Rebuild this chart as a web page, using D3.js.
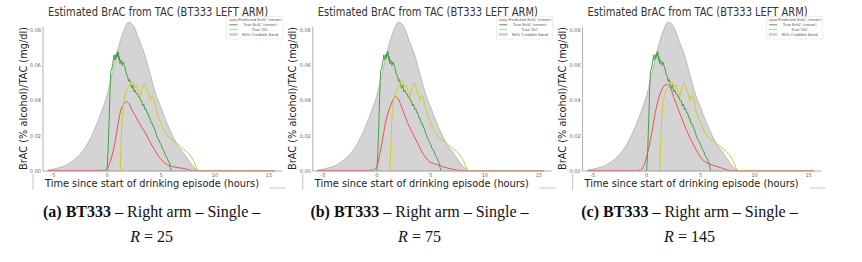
<!DOCTYPE html>
<html>
<head>
<meta charset="utf-8">
<script src="https://cdn.jsdelivr.net/npm/d3@7"></script>
<style>
  body { margin: 0; background: #fff; }
  svg { display: block; }
</style>
</head>
<body>
<svg id="mainsvg" width="862" height="262"></svg>
<script>
// shared x-values (hours) and series
const bandT = [-5.5, -5, -4.5, -4, -3.5, -3, -2.5, -2, -1.5, -1, -0.5, 0, 0.5, 1, 1.5, 2, 2.5, 3, 3.5, 4, 4.5, 5, 5.5, 6, 6.5, 7, 7.5, 8, 8.5, 9, 15.5]
const bandUpper = [0.0005, 0.001, 0.0018, 0.0027, 0.0043, 0.0065, 0.0095, 0.0135, 0.019, 0.026, 0.034, 0.043, 0.056, 0.069, 0.079, 0.0845, 0.082, 0.074, 0.066, 0.055, 0.044, 0.036, 0.028, 0.021, 0.015, 0.011, 0.0065, 0.0025, 0.0003, 0, 0]

const greenT = [0, 0.1, 0.2, 0.3, 0.35, 0.45, 0.55, 0.6, 0.65, 0.7, 0.75, 0.8, 0.85, 0.9, 0.95, 1.0, 1.05, 1.1, 1.15, 1.2, 1.3, 1.4, 1.5, 1.6, 1.7, 1.8, 1.9, 2.0, 2.1, 2.2, 2.3, 2.4, 2.5, 2.6, 2.7, 2.8, 2.9, 3.0, 3.1, 3.2, 3.3, 3.4, 3.5, 3.6, 3.7, 3.8, 3.9, 4.0, 4.1, 4.2, 4.3, 4.4, 4.5, 4.6, 4.7, 4.8, 4.9, 5.0, 5.1, 5.2, 5.3, 5.4, 5.5, 5.6, 5.7, 5.8, 5.85, 5.95]
const greenV = [0, 0.012, 0.03, 0.05, 0.057, 0.058, 0.062, 0.064, 0.066, 0.063, 0.064, 0.066, 0.064, 0.067, 0.065, 0.068, 0.0675, 0.063, 0.065, 0.061, 0.063, 0.060, 0.062, 0.060, 0.058, 0.055, 0.054, 0.051, 0.052, 0.049, 0.047, 0.049, 0.045, 0.046, 0.044, 0.044, 0.042, 0.042, 0.040, 0.040, 0.037, 0.038, 0.035, 0.0355, 0.033, 0.033, 0.030, 0.030, 0.027, 0.027, 0.025, 0.024, 0.022, 0.020, 0.0185, 0.0175, 0.016, 0.015, 0.013, 0.012, 0.011, 0.009, 0.0081, 0.007, 0.0055, 0.0044, 0.002, 0]

const yellowT = [1.22, 1.3, 1.4, 1.55, 1.7, 1.9, 2.1, 2.25, 2.4, 2.55, 2.7, 2.85, 3.0, 3.1, 3.25, 3.4, 3.55, 3.7, 3.85, 4.0, 4.15, 4.3, 4.5, 4.8, 5.0, 5.3, 5.6, 5.9, 6.2, 6.5, 6.8, 7.1, 7.4, 7.7, 8.0, 8.3, 8.5, 15.5]
const yellowV = [0, 0.016, 0.03, 0.04, 0.044, 0.047, 0.049, 0.051, 0.0505, 0.047, 0.049, 0.046, 0.044, 0.042, 0.047, 0.0498, 0.0495, 0.046, 0.044, 0.040, 0.043, 0.042, 0.036, 0.030, 0.027, 0.023, 0.020, 0.018, 0.017, 0.0155, 0.014, 0.0125, 0.011, 0.009, 0.006, 0.0015, 0, 0]

// predicted BrAC, one per panel
const redT = [
  [-5.5, -1, -0.2, 0, 0.34, 0.66, 0.97, 1.28, 1.5, 1.8, 2.0, 2.37, 2.75, 3.0, 3.65, 4.25, 4.6, 4.87, 5.2, 5.5, 6.1, 7.06, 8.0, 15.5],
  [-5.5, -1, -0.37, 0, 0.4, 0.86, 1.33, 1.73, 1.94, 2.4, 3.0, 3.64, 4.26, 4.88, 5.5, 6.1, 7.0, 8.0, 15.5],
  [-5.5, -1, -0.6, -0.3, 0, 0.46, 0.92, 1.38, 1.83, 2.14, 2.6, 3.2, 3.82, 4.43, 5.05, 5.66, 6.57, 7.5, 8.1, 15.5]
]
const redV = [
  [0.0003, 0.0003, 0.0005, 0.001, 0.0063, 0.0138, 0.025, 0.0347, 0.0375, 0.0394, 0.0385, 0.034, 0.030, 0.027, 0.0205, 0.0135, 0.010, 0.0075, 0.0055, 0.0038, 0.0025, 0.0015, 0.0003, 0.0003],
  [0.0003, 0.0003, 0.0005, 0.0025, 0.0138, 0.029, 0.038, 0.0422, 0.0413, 0.0347, 0.0252, 0.0176, 0.010, 0.0053, 0.0038, 0.0025, 0.001, 0.0002, 0.0002],
  [0.0003, 0.0003, 0.0005, 0.0025, 0.008, 0.0214, 0.0366, 0.046, 0.0492, 0.0479, 0.0403, 0.0309, 0.0214, 0.0138, 0.0072, 0.0044, 0.0025, 0.0006, 0.0002, 0.0002]
]

const xTicks = [-5, 0, 5, 10, 15]
const yTicks = [0, 0.02, 0.04, 0.06, 0.08]
const legendLabels = ["Predicted BrAC (mean)", "True BrAC (mean)", "True TAC", "90% Credible Band"]
const titleText = "Estimated BrAC from TAC (BT333 LEFT ARM)"
const xLabelText = "Time since start of drinking episode (hours)"
const yLabelText = "BrAC (% alcohol)/TAC (mg/dl)"
const captionLetters = ["(a)", "(b)", "(c)"]
const captionR = ["25", "75", "145"]

// layout
const OFFSETS = [0, 269.8, 539.6]
const CAPTION_X = [151.7, 419.5, 689.5]
const COLORS = { red: "#f0504f", green: "#46a046", yellow: "#d2cd2c", band: "#d4d4d4" }

let svg = d3.select("#mainsvg")

const x = d3.scaleLinear().domain([-5.93, 16.2]).range([43, 282])
const y = d3.scaleLinear().domain([0, 0.082]).range([171, 26.7])

const zip = (ts, vs) => ts.map((t, i) => [t, vs[i]])

function renderPanel (p) {
    let g = svg.append("g").attr("transform", `translate(${OFFSETS[p]},0)`)

    // band
    g.append("path")
    .datum(zip(bandT, bandUpper))
    .attr("fill", COLORS.band)
    .attr("stroke", "#a8a8a8")
    .attr("stroke-width", 0.7)
    .attr("d", d3.area().x(d => x(d[0])).y0(y(0)).y1(d => y(d[1])).curve(d3.curveMonotoneX))

    const line = d3.line().x(d => x(d[0])).y(d => y(d[1]))

    g.append("path")
    .datum(zip(redT[p], redV[p]))
    .attr("fill", "none").attr("stroke", COLORS.red).attr("stroke-width", 1)
    .attr("d", line.curve(d3.curveMonotoneX))

    g.append("path")
    .datum(zip(greenT, greenV))
    .attr("fill", "none").attr("stroke", COLORS.green).attr("stroke-width", 1)
    .attr("d", line.curve(d3.curveLinear))

    g.append("path")
    .datum(zip(yellowT, yellowV))
    .attr("fill", "none").attr("stroke", COLORS.yellow).attr("stroke-width", 1)
    .attr("d", line.curve(d3.curveLinear))

    // spines
    g.append("line").attr("x1", 43).attr("x2", 43).attr("y1", 26.7).attr("y2", 171)
    .attr("stroke", "#b0b0b0").attr("stroke-width", 1)
    g.append("line").attr("x1", 43).attr("x2", 282).attr("y1", 171).attr("y2", 171)
    .attr("stroke", "#b0b0b0").attr("stroke-width", 1)

    // tick labels
    g.selectAll(".xt").data(xTicks).enter().append("text")
    .attr("x", d => x(d)).attr("y", 176.5)
    .attr("text-anchor", "middle")
    .attr("font-family", "DejaVu Sans").attr("font-size", 5).attr("fill", "#666")
    .text(d => d)
    g.selectAll(".yt").data(yTicks).enter().append("text")
    .attr("x", 41).attr("y", d => y(d) + 1.8)
    .attr("text-anchor", "end")
    .attr("font-family", "DejaVu Sans").attr("font-size", 5).attr("fill", "#666")
    .text(d => d3.format(".2f")(d))

    // title and axis labels
    g.append("text").attr("x", 158).attr("y", 15.5)
    .attr("text-anchor", "middle")
    .attr("font-family", "DejaVu Sans").attr("font-size", 11.4).attr("fill", "#333")
    .attr("textLength", 220).attr("lengthAdjust", "spacingAndGlyphs")
    .text(titleText)
    g.append("text").attr("x", 152).attr("y", 187.3)
    .attr("text-anchor", "middle")
    .attr("font-family", "DejaVu Sans").attr("font-size", 10.3).attr("fill", "#222")
    .attr("textLength", 214).attr("lengthAdjust", "spacingAndGlyphs")
    .text(xLabelText)
    g.append("text")
    .attr("transform", "translate(26.5,98.5) rotate(-90)")
    .attr("text-anchor", "middle")
    .attr("font-family", "DejaVu Sans").attr("font-size", 11).attr("fill", "#222")
    .attr("textLength", 143).attr("lengthAdjust", "spacingAndGlyphs")
    .text(yLabelText)

    // legend
    let lg = g.append("g")
    lg.append("rect").attr("x", 226.7).attr("y", 16.7).attr("width", 56.3).attr("height", 22.3)
    .attr("fill", "#fff").attr("fill-opacity", 0.85).attr("stroke", "#ddd").attr("stroke-width", 0.5)
    const legColors = [COLORS.red, COLORS.green, COLORS.yellow]
    legendLabels.forEach((lab, i) => {
        let ly = 20 + i * 4.8
        if (i < 3) {
            lg.append("line").attr("x1", 229.5).attr("x2", 237.5).attr("y1", ly).attr("y2", ly)
            .attr("stroke", legColors[i]).attr("stroke-width", 1)
        } else {
            lg.append("rect").attr("x", 229.5).attr("y", ly - 1.3).attr("width", 8).attr("height", 2.6)
            .attr("fill", COLORS.band).attr("stroke", "#bbb").attr("stroke-width", 0.3)
        }
        lg.append("text").attr("x", 260).attr("y", ly + 1.3)
        .attr("text-anchor", "middle")
        .attr("font-family", "DejaVu Sans").attr("font-size", 3.8).attr("fill", "#555")
        .text(lab)
    })

    // cropped remnants at the bottom of each figure
    g.append("line").attr("x1", 33).attr("x2", 33).attr("y1", 174).attr("y2", 190)
    .attr("stroke", "#c4c4c4").attr("stroke-width", 1)
    g.append("line").attr("x1", 270).attr("x2", 286).attr("y1", 188).attr("y2", 188)
    .attr("stroke", "#c4c4c4").attr("stroke-width", 1)

    // caption
    let cap = svg.append("text").attr("x", CAPTION_X[p]).attr("y", 216.5)
    .attr("text-anchor", "middle")
    .attr("font-family", "Liberation Serif").attr("font-size", 16).attr("fill", "#111")
    cap.append("tspan").attr("font-weight", "bold").text(captionLetters[p] + " BT333")
    cap.append("tspan").text(" \u2013 Right arm \u2013 Single \u2013")
    let cap2 = svg.append("text").attr("x", CAPTION_X[p]).attr("y", 242)
    .attr("text-anchor", "middle")
    .attr("font-family", "Liberation Serif").attr("font-size", 16).attr("fill", "#111")
    cap2.append("tspan").attr("font-style", "italic").text("R")
    cap2.append("tspan").text(" = " + captionR[p])
}

[0, 1, 2].forEach(renderPanel)
</script>
</body>
</html>
